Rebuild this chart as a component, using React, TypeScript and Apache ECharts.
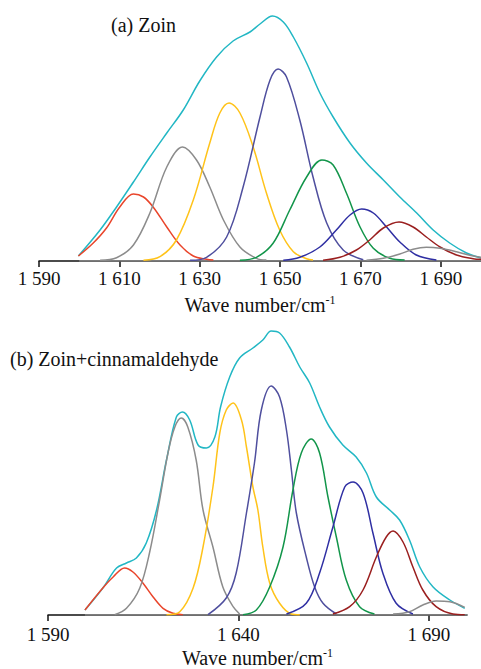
import React, { useEffect, useRef } from "react";
import * as echarts from "echarts";

// Wave-number tick settings
const topTicks = { min: 1590, max: 1700, interval: 20 };
const bottomTicks = { min: 1590, max: 1700, interval: 50 };

const titleA = "(a) Zoin";
const titleB = "(b) Zoin+cinnamaldehyde";

// ---------- (a) Zoin : [wave number, intensity] ----------
const aEnvelope = [
  [1599.8, 5], [1605.2, 31], [1609.3, 54], [1613.5, 79], [1617.6, 104], [1621.8, 128],
  [1625.9, 151], [1630.0, 180], [1634.2, 204], [1638.3, 220], [1642.5, 229], [1645.0, 237],
  [1648.1, 245], [1650.8, 239], [1653.3, 224], [1656.6, 198], [1659.9, 168], [1663.2, 144],
  [1667.4, 118], [1671.5, 98], [1675.7, 81], [1679.8, 64], [1684.0, 48], [1688.1, 31],
  [1692.2, 18], [1696.4, 8], [1700, 3],
];
const aRed = [
  [1599.8, 5], [1603.5, 18], [1606.8, 33], [1610.1, 54], [1613.5, 67], [1616.0, 64],
  [1618.4, 54], [1621.8, 34], [1625.1, 16], [1628.4, 5], [1631.7, 1.7], [1633.4, 1],
];
const aGray1 = [
  [1605.2, 0.7], [1609.3, 3.3], [1613.5, 16], [1617.6, 48], [1621.8, 94], [1625.7, 114],
  [1629.2, 101], [1632.5, 74], [1635.9, 41], [1640.0, 14], [1644.1, 2.7], [1646.6, 1],
];
const aYellow = [
  [1616.0, 0.7], [1620.1, 4.3], [1624.2, 21], [1628.4, 61], [1632.5, 118], [1635.0, 148],
  [1637.3, 158], [1640.0, 148], [1643.3, 114], [1646.6, 68], [1649.9, 31], [1653.3, 9.3],
  [1656.6, 2.3], [1658.2, 1],
];
const aSlate = [
  [1627.6, 0.7], [1631.7, 3.7], [1636.7, 24], [1640.8, 74], [1645.0, 144], [1647.5, 181],
  [1649.5, 192], [1651.6, 184], [1654.9, 141], [1658.2, 84], [1661.6, 38], [1665.7, 11],
  [1670.7, 1.3],
];
const aGreen = [
  [1640.0, 0.7], [1644.1, 3.7], [1648.3, 18], [1652.4, 51], [1656.6, 84], [1660.4, 101],
  [1663.2, 96], [1666.5, 68], [1669.9, 34], [1673.2, 12.7], [1677.3, 2.7], [1681.0, 1],
];
const aBlue = [
  [1650.8, 0.7], [1654.9, 3.7], [1659.9, 14], [1664.0, 31], [1667.4, 46], [1670.3, 52],
  [1673.2, 48], [1676.5, 34], [1679.8, 19], [1683.9, 6], [1688.9, 1],
];
const aMaroon = [
  [1660.7, 0.7], [1664.9, 3.7], [1669.0, 11], [1672.3, 21], [1675.7, 33], [1679.6, 39],
  [1683.1, 34], [1686.4, 24], [1689.8, 14], [1693.9, 6], [1698.0, 2.3], [1700, 1.7],
];
const aGray2 = [
  [1671.5, 0.7], [1675.7, 2.7], [1679.8, 7], [1683.1, 11.7], [1686.4, 13.7], [1689.8, 12.7],
  [1693.9, 9.3], [1697.2, 5.7], [1700, 3.7],
];
const aBaseline = [[1600, 0], [1700, 0]];

// ---------- (b) Zoin+cinnamaldehyde ----------
const bEnvelope = [
  [1599.7, 5], [1604.4, 27], [1608.0, 47], [1610.6, 52], [1613.2, 57], [1615.8, 72],
  [1618.5, 105], [1621.1, 155], [1623.7, 198], [1625.3, 203], [1627.2, 195], [1629.4, 170],
  [1631.6, 167], [1633.8, 178], [1635.3, 208], [1637.7, 238], [1640.3, 257], [1643.8, 267],
  [1646.4, 275], [1648.6, 284], [1650.8, 282], [1653.4, 268], [1656.1, 248], [1658.7, 232],
  [1661.3, 208], [1663.9, 188], [1667.4, 170], [1670.9, 158], [1673.6, 142], [1676.2, 118],
  [1679.7, 105], [1682.3, 95], [1684.9, 75], [1687.6, 48], [1691.1, 28], [1695.5, 15],
  [1699.4, 6.7],
];
const bRed = [
  [1599.7, 5], [1604.4, 27], [1607.1, 38], [1610.1, 47], [1612.3, 43], [1614.9, 32],
  [1617.6, 18], [1620.2, 6.7], [1622.8, 1.7], [1625.4, 0.3],
];
const bGray1 = [
  [1607.5, 0.3], [1610.6, 6.7], [1614.1, 27], [1616.7, 63], [1619.3, 115], [1621.5, 162],
  [1623.3, 188], [1625.0, 197], [1626.7, 188], [1628.9, 155], [1630.7, 105], [1633.3, 68],
  [1635.9, 28], [1638.6, 8.3], [1640.3, 1],
];
const bYellow = [
  [1621.1, 0.3], [1624.6, 3.3], [1628.1, 27], [1630.7, 68], [1633.3, 128], [1635.1, 182],
  [1636.8, 205], [1638.6, 212], [1640.8, 195], [1642.1, 168], [1643.8, 128], [1645.1, 105],
  [1646.4, 68], [1648.2, 32], [1650.8, 11.7], [1653.9, 1], [1656.1, 0.3],
];
const bSlate = [
  [1632.0, 0.3], [1636.8, 17], [1639.4, 42], [1642.1, 102], [1644.2, 152], [1646.0, 205],
  [1648.6, 229], [1650.8, 218], [1652.6, 185], [1653.9, 145], [1655.2, 102], [1657.8, 58],
  [1660.0, 28], [1662.2, 11.7], [1665.7, 1],
];
const bGreen = [
  [1641.2, 0.3], [1644.7, 5], [1648.2, 28], [1651.7, 68], [1654.3, 125], [1656.5, 162],
  [1659.1, 176], [1661.3, 162], [1663.5, 118], [1665.7, 78], [1668.3, 35], [1671.8, 8.3],
  [1675.7, 1],
];
const bBlue = [
  [1652.6, 1], [1657.8, 11.7], [1661.3, 42], [1664.8, 88], [1667.9, 128], [1670.1, 133],
  [1672.7, 122], [1675.3, 82], [1677.9, 42], [1681.4, 11.7], [1685.8, 1],
];
const bMaroon = [
  [1664.8, 1], [1669.2, 8.3], [1672.7, 25], [1676.2, 58], [1678.8, 78], [1680.6, 84],
  [1683.2, 73], [1685.8, 48], [1688.4, 25], [1691.9, 8.3], [1696.3, 1], [1699.4, 0.3],
];
const bGray2 = [
  [1680.6, 1], [1684.9, 3.3], [1688.4, 10], [1691.9, 14], [1695.5, 13.3], [1699.4, 7.7],
];
const bBaseline = [[1599.7, 0], [1700, 0]];

const colors = {
  envelope: "#22B7C4",
  red: "#E9452B",
  gray: "#8C8C8C",
  yellow: "#FFC31A",
  slate: "#4F4F9E",
  green: "#12954A",
  blue: "#2F2FA3",
  maroon: "#9A1F1F",
};

const serif = "'Liberation Serif', 'Times New Roman', serif";

function fmt(v: number) {
  const s = String(Math.round(v));
  return s.length === 4 ? s[0] + " " + s.slice(1) : s;
}

function line(name: string, data: number[][], color: string, idx: number, z = 2) {
  return {
    type: "line",
    name,
    data,
    xAxisIndex: idx,
    yAxisIndex: idx,
    smooth: 0.35,
    showSymbol: false,
    symbol: "none",
    z,
    lineStyle: { color, width: 1.5 },
  };
}

function xAxisCfg(idx: number, ticks: { min: number; max: number; interval: number }, margin: number, gap: number) {
  return {
    type: "value",
    gridIndex: idx,
    min: ticks.min,
    max: ticks.max,
    interval: ticks.interval,
    splitLine: { show: false },
    axisLine: { show: true, onZero: false, lineStyle: { color: "#111", width: 1.5 } },
    axisTick: { show: true, inside: false, length: 6, lineStyle: { color: "#111", width: 1.5 } },
    axisLabel: {
      show: true,
      margin,
      fontSize: 19,
      fontFamily: serif,
      color: "#111",
      showMaxLabel: false,
      formatter: (v: number) => fmt(v),
    },
    name: "Wave number/cm{sup|-1}",
    nameLocation: "middle",
    nameGap: gap,
    nameTextStyle: {
      fontSize: 20,
      fontFamily: serif,
      color: "#111",
      rich: {
        sup: { fontSize: 12, fontFamily: serif, color: "#111", verticalAlign: "top", padding: [0, 0, 10, 0] },
      },
    },
  };
}

export default function App() {
  const ref = useRef<HTMLDivElement>(null);
  useEffect(() => {
    document.body.style.margin = "0";
    const chart = echarts.init(ref.current!, undefined, { renderer: "svg" });
    chart.setOption({
      animation: false,
      backgroundColor: "#ffffff",
      title: [
        { text: titleA, left: 106, top: 10, textStyle: { fontSize: 20, fontWeight: "normal", fontFamily: serif, color: "#111" } },
        { text: titleB, left: 5, top: 344, textStyle: { fontSize: 20, fontWeight: "normal", fontFamily: serif, color: "#111" } },
      ],
      grid: [
        { left: 39, right: 0, top: 10, height: 251 },
        { left: 48, right: 14, top: 325, height: 290 },
      ],
      xAxis: [xAxisCfg(0, topTicks, 8, 33), xAxisCfg(1, bottomTicks, 10, 32)],
      yAxis: [
        { type: "value", gridIndex: 0, min: 0, max: 251, show: false },
        { type: "value", gridIndex: 1, min: 0, max: 290, show: false },
      ],
      series: [
        line("a-base", aBaseline, colors.gray, 0, 1),
        line("a-envelope", aEnvelope, colors.envelope, 0),
        line("a-red", aRed, colors.red, 0, 3),
        line("a-gray1", aGray1, colors.gray, 0, 3),
        line("a-yellow", aYellow, colors.yellow, 0, 3),
        line("a-slate", aSlate, colors.slate, 0, 3),
        line("a-green", aGreen, colors.green, 0, 3),
        line("a-blue", aBlue, colors.blue, 0, 3),
        line("a-maroon", aMaroon, colors.maroon, 0, 3),
        line("a-gray2", aGray2, colors.gray, 0, 3),
        line("b-base", bBaseline, colors.gray, 1, 1),
        line("b-envelope", bEnvelope, colors.envelope, 1),
        line("b-red", bRed, colors.red, 1, 3),
        line("b-gray1", bGray1, colors.gray, 1, 3),
        line("b-yellow", bYellow, colors.yellow, 1, 3),
        line("b-slate", bSlate, colors.slate, 1, 3),
        line("b-green", bGreen, colors.green, 1, 3),
        line("b-blue", bBlue, colors.blue, 1, 3),
        line("b-maroon", bMaroon, colors.maroon, 1, 3),
        line("b-gray2", bGray2, colors.gray, 1, 3),
      ],
    });
    return () => chart.dispose();
  }, []);
  return <div ref={ref} style={{ width: 481, height: 669, position: "absolute", left: 0, top: 0 }} />;
}
